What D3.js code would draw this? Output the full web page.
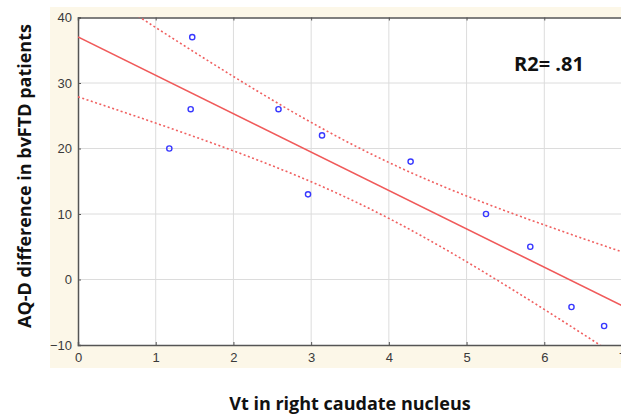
<!DOCTYPE html>
<html>
<head>
<meta charset="utf-8">
<script src="https://cdn.jsdelivr.net/npm/d3@7"></script>
<style>
    html, body { margin: 0; padding: 0; background: #fff; }
    svg { display: block; }
    .tick text { font-family: "Liberation Sans", Arial, sans-serif; font-size: 13px; fill: #3a3a3a; }
    .title { font-family: "Open Sans", "Liberation Sans", sans-serif; font-weight: bold; fill: #111; }
</style>
</head>
<body>
<div id="chart"></div>
<script>
"use strict";

// ------------------------- Data -------------------------

const vtRightCaudate = [1.47, 1.45, 1.175, 2.58, 2.96, 3.14, 4.28, 5.25, 5.82, 6.35, 6.77];
const aqdDifference = [37, 26, 20, 26, 13, 22, 18, 10, 5, -4.2, -7.1];
const xTicks = [0, 1, 2, 3, 4, 5, 6, 7];
const yTicks = [-10, 0, 10, 20, 30, 40];
const rSquaredLabel = 'R2= .81';

const width = 621;
const height = 416;
const plot = { left: 78, top: 17.5, right: 622, bottom: 345 };

const svg = d3.select('#chart')
    .append('svg')
    .attr('width', width)
    .attr('height', height);

const x = d3.scaleLinear().domain([0, 7]).range([plot.left, plot.right]);
const y = d3.scaleLinear().domain([-10, 40]).range([plot.bottom, plot.top]);


// ------------------------- Frame -------------------------

svg.append('rect')
    .attr('x', 50).attr('y', 7)
    .attr('width', width - 50).attr('height', 361)
    .attr('fill', '#fcf7e8');

svg.append('rect')
    .attr('x', plot.left).attr('y', plot.top)
    .attr('width', plot.right - plot.left).attr('height', plot.bottom - plot.top)
    .attr('fill', '#fff');

svg.append('clipPath').attr('id', 'plot-clip')
    .append('rect')
    .attr('x', plot.left).attr('y', plot.top)
    .attr('width', plot.right - plot.left).attr('height', plot.bottom - plot.top);

// grid
svg.append('g')
    .selectAll('line')
    .data(xTicks.slice(1, -1))
    .join('line')
    .attr('x1', d => x(d)).attr('x2', d => x(d))
    .attr('y1', plot.top).attr('y2', plot.bottom)
    .attr('stroke', '#dcdcdc');

svg.append('g')
    .selectAll('line')
    .data(yTicks.slice(1, -1))
    .join('line')
    .attr('x1', plot.left).attr('x2', plot.right)
    .attr('y1', d => y(d)).attr('y2', d => y(d))
    .attr('stroke', '#dcdcdc');

// axes
svg.append('g')
    .attr('transform', `translate(0,${plot.bottom})`)
    .call(d3.axisBottom(x).tickValues(xTicks).tickSize(-3).tickPadding(8).tickFormat(d3.format('d')));

svg.append('g')
    .attr('transform', `translate(${plot.left},0)`)
    .call(d3.axisLeft(y).tickValues(yTicks).tickSize(-3).tickPadding(6).tickFormat(d3.format('d')));

svg.append('g')
    .attr('transform', `translate(0,${plot.top})`)
    .call(d3.axisTop(x).tickValues(xTicks).tickSize(-3).tickFormat(''));

svg.selectAll('.domain').attr('stroke', '#555').attr('stroke-width', 1.5);
svg.selectAll('.tick line').attr('stroke', '#555');


// ------------------------- Regression -------------------------

const n = vtRightCaudate.length;
const meanX = d3.mean(vtRightCaudate);
const meanY = d3.mean(aqdDifference);
const sxx = d3.sum(vtRightCaudate, v => (v - meanX) ** 2);
const sxy = d3.sum(vtRightCaudate, (v, i) => (v - meanX) * (aqdDifference[i] - meanY));
const slope = sxy / sxx;
const intercept = meanY - slope * meanX;
const sse = d3.sum(vtRightCaudate, (v, i) => (aqdDifference[i] - intercept - slope * v) ** 2);
const s = Math.sqrt(sse / (n - 2));
const tCrit = 2.262; // t(0.975, 9)

const fitX = d3.range(0, 7.001, 0.05);
const band = sign => fitX.map(v => [v,
    intercept + slope * v + sign * tCrit * s * Math.sqrt(1 / n + (v - meanX) ** 2 / sxx)]);

const line = d3.line().x(d => x(d[0])).y(d => y(d[1]));
const fits = svg.append('g').attr('clip-path', 'url(#plot-clip)');

fits.append('path')
    .datum([[0, intercept], [7, intercept + slope * 7]])
    .attr('d', line)
    .attr('fill', 'none')
    .attr('stroke', '#f05a5a')
    .attr('stroke-width', 1.6);

[1, -1].forEach(sign => {
    fits.append('path')
        .datum(band(sign))
        .attr('d', line)
        .attr('fill', 'none')
        .attr('stroke', '#f06060')
        .attr('stroke-width', 1.6)
        .attr('stroke-dasharray', '2,2.5');
});


// ------------------------- Points -------------------------

svg.append('g')
    .selectAll('circle')
    .data(vtRightCaudate)
    .join('circle')
    .attr('cx', d => x(d))
    .attr('cy', (d, i) => y(aqdDifference[i]))
    .attr('r', 2.6)
    .attr('fill', 'none')
    .attr('stroke', '#3838ff')
    .attr('stroke-width', 1.4);


// ------------------------- Labels -------------------------

svg.append('text')
    .classed('title', true)
    .attr('x', 514).attr('y', 71)
    .attr('font-size', 20)
    .text(rSquaredLabel);

svg.append('text')
    .classed('title', true)
    .attr('transform', 'translate(31,176) rotate(-90)')
    .attr('text-anchor', 'middle')
    .attr('font-size', 18)
    .text('AQ-D difference in bvFTD patients');

svg.append('text')
    .classed('title', true)
    .attr('x', 350).attr('y', 410)
    .attr('text-anchor', 'middle')
    .attr('font-size', 18)
    .text('Vt in right caudate nucleus');
</script>
</body>
</html>
